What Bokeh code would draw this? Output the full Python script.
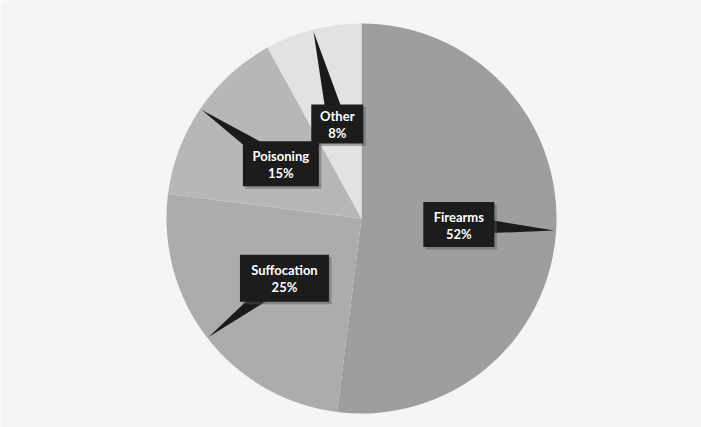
import math
from bokeh.plotting import figure
from bokeh.models import ColumnDataSource, Range1d
from bokeh.core.properties import value
from bokeh.embed import file_html
from bokeh.resources import INLINE

# ---- data ----
categories = ["Firearms", "Suffocation", "Poisoning", "Other"]
percents = [52, 25, 15, 8]

# ---- styles ----
colors = ["#9e9e9e", "#acacac", "#b7b7b7", "#e2e2e2"]
box_w = [71, 89, 76, 52]
box_h = [45, 47, 45, 39]

W, H = 701, 427
cx_px, cy_px, r_px = 361, 218, 195

p = figure(width=W, height=H, output_backend="svg", toolbar_location=None,
           x_range=Range1d(-cx_px / r_px, (W - cx_px) / r_px),
           y_range=Range1d(-(H - cy_px) / r_px, cy_px / r_px),
           min_border=0)
p.axis.visible = False
p.grid.visible = False
p.outline_line_color = None
p.background_fill_color = "#f5f5f5"
p.border_fill_color = "#f5f5f5"

total = sum(percents)
starts, ends, mids = [], [], []
a = math.pi / 2
for v in percents:
    sweep = 2 * math.pi * v / total
    starts.append(a)
    ends.append(a - sweep)
    mids.append(a - sweep / 2)
    a -= sweep

src = ColumnDataSource(dict(start=starts, end=ends, color=colors, cat=categories))
p.wedge(x=0, y=0, radius=1.0, start_angle="start", end_angle="end",
        direction="clock", fill_color="color", line_color=None, source=src)

# label positions and callout pointers
lx = [0.5 * math.cos(m) for m in mids]
ly = [0.5 * math.sin(m) for m in mids]
tipx = [0.99 * math.cos(m) for m in mids]
tipy = [0.99 * math.sin(m) for m in mids]
hw = 0.05
px, py = [], []
for i, m in enumerate(mids):
    nx, ny = -math.sin(m), math.cos(m)
    px.append([lx[i] + nx * hw, tipx[i], lx[i] - nx * hw])
    py.append([ly[i] + ny * hw, tipy[i], ly[i] - ny * hw])
p.patches(xs=px, ys=py, fill_color="#1a1a1a", line_color=None)

lab = ColumnDataSource(dict(x=lx, y=ly, w=box_w, h=box_h,
                            name=categories,
                            pct=[f"{v}%" for v in percents]))
# shadow
shadow_x = [x + 2.5 / r_px for x in lx]
shadow_y = [y - 2.5 / r_px for y in ly]
p.rect(x=shadow_x, y=shadow_y, width=box_w, height=box_h, width_units="screen",
       height_units="screen", fill_color="#555555", fill_alpha=0.45, line_color=None)
p.rect(x="x", y="y", width="w", height="h", width_units="screen",
       height_units="screen", source=lab, fill_color="#1c1c1c", line_color=None)
p.text(x="x", y="y", text="name", source=lab, text_color="white",
       text_font=value("Lato"), text_font_style="bold", text_font_size="13px",
       text_align="center", text_baseline="middle", y_offset=-8)
p.text(x="x", y="y", text="pct", source=lab, text_color="white",
       text_font=value("Lato"), text_font_style="bold", text_font_size="13px",
       text_align="center", text_baseline="middle", y_offset=9)

open("out.html", "w").write(file_html(p, INLINE))
